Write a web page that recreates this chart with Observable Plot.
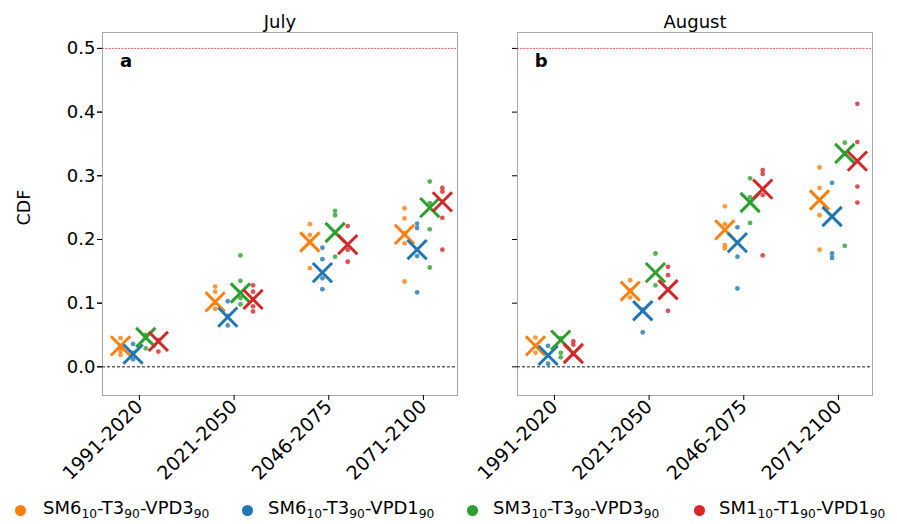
<!DOCTYPE html>
<html>
<head>
<meta charset="utf-8">
<script src="https://cdn.jsdelivr.net/npm/d3@7"></script>
<script src="https://cdn.jsdelivr.net/npm/@observablehq/plot@0.6"></script>
<style>
  html, body { margin: 0; padding: 0; background: white; }
  body { font-family: "DejaVu Sans", sans-serif; width: 897px; }
  #legend { position: relative; width: 897px; height: 32px; font-size: 18px; color: #000; }
  .li { position: absolute; top: 0; height: 32px; line-height: 32px; white-space: nowrap; }
  .dotl { position: absolute; width: 11px; height: 11px; border-radius: 50%; top: 13px; }
  sub { font-size: 68%; vertical-align: -0.35em; line-height: 0; }
  #chart svg g[aria-label="y-axis tick label"] text { font-size: 18px; }
  #chart svg g[aria-label="x-axis tick label"] text { font-size: 19px; }
  #chart svg g[aria-label="fx-axis tick label"] text { font-size: 18px; }
</style>
</head>
<body>
<div id="chart"></div>
<div id="legend"></div>
<script>
// ---------- data ----------
const months = ["July", "August"];
const periods = ["1991-2020", "2021-2050", "2046-2075", "2071-2100"];
const seriesKeys = ["SM6-T3-VPD3", "SM6-T3-VPD1", "SM3-T3-VPD3", "SM1-T1-VPD1"];
const seriesColors = ["#ff7f0e", "#1f77b4", "#2ca02c", "#d62728"];
const legendLabels = [
  "SM6<sub>10</sub>-T3<sub>90</sub>-VPD3<sub>90</sub>",
  "SM6<sub>10</sub>-T3<sub>90</sub>-VPD1<sub>90</sub>",
  "SM3<sub>10</sub>-T3<sub>90</sub>-VPD3<sub>90</sub>",
  "SM1<sub>10</sub>-T1<sub>90</sub>-VPD1<sub>90</sub>"
];
const yTicks = [0, 0.1, 0.2, 0.3, 0.4, 0.5];
const panelLetters = ["a", "b"];
const yLabel = "CDF";

// ensemble means (X markers), one value per period
const julyMeanS1 = [0.033, 0.102, 0.196, 0.208];
const julyMeanS2 = [0.020, 0.078, 0.148, 0.184];
const julyMeanS3 = [0.046, 0.116, 0.211, 0.250];
const julyMeanS4 = [0.040, 0.106, 0.192, 0.259];
const augMeanS1 = [0.033, 0.119, 0.215, 0.262];
const augMeanS2 = [0.018, 0.088, 0.195, 0.236];
const augMeanS3 = [0.042, 0.148, 0.258, 0.335];
const augMeanS4 = [0.021, 0.121, 0.279, 0.323];

// individual members (small dots), one list per period
const julyMembersS1 = [[0.045, 0.025, 0.019, 0.030], [0.126, 0.118, 0.091, 0.100], [0.224, 0.207, 0.155, 0.195], [0.249, 0.233, 0.194, 0.134, 0.210]];
const julyMembersS2 = [[0.036, 0.012, 0.022], [0.103, 0.065, 0.080], [0.187, 0.169, 0.139, 0.122], [0.225, 0.218, 0.174, 0.117]];
const julyMembersS3 = [[0.029, 0.050], [0.175, 0.135, 0.108, 0.098], [0.245, 0.238, 0.173, 0.210], [0.291, 0.257, 0.216, 0.156]];
const julyMembersS4 = [[0.024, 0.042], [0.128, 0.118, 0.095, 0.087], [0.221, 0.184, 0.165], [0.281, 0.275, 0.234, 0.184]];
const augMembersS1 = [[0.046, 0.022, 0.033], [0.136, 0.109, 0.120], [0.252, 0.224, 0.191, 0.186], [0.313, 0.281, 0.238, 0.184]];
const augMembersS2 = [[0.033, 0.005, 0.018], [0.054, 0.090], [0.219, 0.173, 0.123], [0.289, 0.178, 0.171]];
const augMembersS3 = [[0.022, 0.015, 0.045], [0.178, 0.128], [0.296, 0.266, 0.226], [0.352, 0.190]];
const augMembersS4 = [[0.040, 0.035, 0.020], [0.157, 0.144, 0.088], [0.309, 0.303, 0.270, 0.175], [0.413, 0.353, 0.283, 0.258]];

// ---------- build tables ----------
const offsets = [-0.2, -0.067, 0.067, 0.2];
const meanSets = {July: [julyMeanS1, julyMeanS2, julyMeanS3, julyMeanS4], August: [augMeanS1, augMeanS2, augMeanS3, augMeanS4]};
const memberSets = {July: [julyMembersS1, julyMembersS2, julyMembersS3, julyMembersS4], August: [augMembersS1, augMembersS2, augMembersS3, augMembersS4]};
const means = [], members = [];
for (const m of months) {
  seriesKeys.forEach((s, si) => {
    meanSets[m][si].forEach((v, pi) => means.push({month: m, series: s, x: pi + offsets[si], v}));
    memberSets[m][si].forEach((list, pi) => list.forEach(v => members.push({month: m, series: s, x: pi + offsets[si], v})));
  });
}
const letters = months.map((m, i) => ({month: m, t: panelLetters[i]}));

const chart = Plot.plot({
  width: 897,
  height: 492,
  marginLeft: 101,
  marginRight: 24,
  marginTop: 32,
  marginBottom: 97,
  style: {fontFamily: "DejaVu Sans, sans-serif", fontSize: "17px", color: "#000", background: "white"},
  fx: {domain: months, paddingInner: 0.1442, paddingOuter: 0, label: null},
  x: {domain: [-0.39, 3.36], label: null},
  y: {domain: [-0.045, 0.525], label: null},
  color: {domain: seriesKeys, range: seriesColors},
  marks: [
    Plot.frame({stroke: "#a8a8a8", strokeWidth: 1}),
    Plot.ruleY([0.5], {stroke: "#e03030", strokeWidth: 0.8, strokeDasharray: "2,1.2"}),
    Plot.ruleY([0], {stroke: "#000", strokeWidth: 0.9, strokeDasharray: "3,2"}),
    Plot.dot(members, {fx: "month", x: "x", y: "v", r: 2.4, fill: "series", fillOpacity: 0.8, stroke: "none"}),
    Plot.dot(means, {fx: "month", x: "x", y: "v", symbol: "times", r: 8.8, stroke: "series", strokeWidth: 3}),
    Plot.text(letters, {fx: "month", x: -0.14, y: 0.48, text: "t", fontWeight: "bold", fontSize: 18}),
    Plot.text([{month: "July", t: yLabel}], {fx: "month", x: -0.39, y: 0.25, dx: -78, rotate: -90, text: "t", fontSize: 17.5}),
    Plot.axisX({ticks: [0, 1, 2, 3], tickFormat: i => periods[i], tickRotate: -45, tickSize: 5, tickPadding: 3, label: null}),
    Plot.axisY({ticks: yTicks, tickFormat: d3.format(".1f"), tickSize: 5, tickPadding: 2, label: null}),
    Plot.axisY({ticks: yTicks, tickFormat: () => "", tickSize: 5, label: null, facetAnchor: null}),
    Plot.axisFx({anchor: "top", label: null, tickSize: 0, tickPadding: 5})
  ]
});
document.getElementById("chart").appendChild(chart);

// ---------- legend ----------
const legendDotX = [15, 242, 467, 694];
const legendTextX = [43, 268, 493, 719];
const leg = document.getElementById("legend");
seriesKeys.forEach((s, i) => {
  const d = document.createElement("div");
  d.className = "dotl";
  d.style.left = legendDotX[i] + "px";
  d.style.background = seriesColors[i];
  leg.appendChild(d);
  const t = document.createElement("div");
  t.className = "li";
  t.style.left = legendTextX[i] + "px";
  t.innerHTML = legendLabels[i];
  leg.appendChild(t);
});
</script>
</body>
</html>
